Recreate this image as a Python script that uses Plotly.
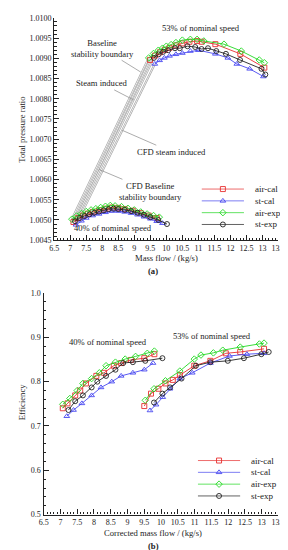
import plotly.graph_objects as go

# ---------------- data: (a) total pressure ratio ----------------
names = ["air-cal", "st-cal", "air-exp", "st-exp"]
colors = ["#e83030", "#4848f0", "#22d822", "#222222"]
symbols = ["square-open", "triangle-up-open", "diamond-open", "circle-open"]

# 40% nominal speed
pr40_air_cal_x = [7.1, 7.25, 7.4, 7.55, 7.7, 7.9, 8.1, 8.3, 8.5, 8.7, 8.95, 9.2, 9.45, 9.7]
pr40_air_cal_y = [1.00495, 1.00505, 1.00511, 1.00516, 1.00520, 1.00524, 1.00528, 1.00531, 1.00530, 1.00527, 1.00523, 1.00517, 1.00511, 1.00505]
pr40_st_cal_x = [7.18, 7.35, 7.5, 7.7, 7.9, 8.1, 8.3, 8.5, 8.7, 8.9, 9.1, 9.3, 9.5, 9.7, 9.88]
pr40_st_cal_y = [1.00488, 1.00498, 1.00505, 1.00511, 1.00515, 1.00519, 1.00522, 1.00522, 1.00520, 1.00517, 1.00513, 1.00508, 1.00503, 1.00497, 1.00492]
pr40_air_exp_x = [7.05, 7.2, 7.35, 7.5, 7.65, 7.8, 7.95, 8.1, 8.25, 8.4, 8.6, 8.8, 9.0, 9.2, 9.4, 9.6, 9.78]
pr40_air_exp_y = [1.00502, 1.00510, 1.00516, 1.00521, 1.00525, 1.00528, 1.00531, 1.00534, 1.00536, 1.00535, 1.00533, 1.00529, 1.00525, 1.00520, 1.00515, 1.00511, 1.00507]
pr40_st_exp_x = [7.15, 7.3, 7.45, 7.6, 7.75, 7.9, 8.05, 8.2, 8.35, 8.5, 8.7, 8.9, 9.1, 9.3, 9.5, 9.75, 10.02]
pr40_st_exp_y = [1.00497, 1.00505, 1.00510, 1.00514, 1.00518, 1.00521, 1.00524, 1.00527, 1.00528, 1.00527, 1.00525, 1.00522, 1.00518, 1.00513, 1.00507, 1.00500, 1.00490]

# 53% nominal speed
pr53_air_cal_x = [9.49, 9.65, 9.8, 9.95, 10.1, 10.3, 10.5, 10.72, 10.96, 11.1, 11.53, 12.31, 13.06]
pr53_air_cal_y = [1.00896, 1.00907, 1.00915, 1.00921, 1.00926, 1.00932, 1.00937, 1.00941, 1.00943, 1.00941, 1.00935, 1.00911, 1.00877]
pr53_st_cal_x = [9.64, 9.79, 9.94, 10.1, 10.3, 10.5, 10.75, 11.0, 11.53, 11.92, 12.2, 12.6, 13.03]
pr53_st_cal_y = [1.00886, 1.00895, 1.00901, 1.00906, 1.00910, 1.00913, 1.00918, 1.00920, 1.00911, 1.00901, 1.00886, 1.00874, 1.00855]
pr53_air_exp_x = [9.45, 9.6, 9.75, 9.88, 10.0, 10.15, 10.3, 10.5, 10.75, 10.96, 11.17, 11.8, 12.34, 12.9, 13.06]
pr53_air_exp_y = [1.00901, 1.00912, 1.00920, 1.00925, 1.00930, 1.00934, 1.00939, 1.00945, 1.00947, 1.00947, 1.00943, 1.00935, 1.00918, 1.00896, 1.00889]
pr53_st_exp_x = [9.61, 9.76, 9.9, 10.06, 10.27, 10.42, 10.66, 10.9, 11.1, 11.3, 11.56, 11.86, 12.3, 12.97, 13.09]
pr53_st_exp_y = [1.00901, 1.00910, 1.00916, 1.00920, 1.00925, 1.00925, 1.00930, 1.00928, 1.00923, 1.00925, 1.00918, 1.00911, 1.00896, 1.00874, 1.00860]

# ---------------- data: (b) efficiency ----------------
ef40_air_cal_x = [7.07, 7.21, 7.44, 7.59, 7.76, 8.07, 8.3, 8.59, 8.81, 9.1, 9.5, 9.8]
ef40_air_cal_y = [0.740, 0.751, 0.769, 0.780, 0.796, 0.813, 0.820, 0.836, 0.842, 0.849, 0.853, 0.862]
ef40_st_cal_x = [7.19, 7.39, 7.64, 7.93, 8.21, 8.53, 8.81, 9.16, 9.5, 9.76]
ef40_st_cal_y = [0.722, 0.736, 0.751, 0.769, 0.787, 0.800, 0.813, 0.820, 0.827, 0.842]
ef40_air_exp_x = [7.07, 7.28, 7.5, 7.67, 7.93, 8.16, 8.36, 8.64, 8.93, 9.24, 9.59, 9.8]
ef40_air_exp_y = [0.749, 0.762, 0.780, 0.796, 0.807, 0.820, 0.836, 0.844, 0.851, 0.857, 0.864, 0.869]
ef40_st_exp_x = [7.24, 7.44, 7.67, 7.93, 8.1, 8.36, 8.64, 8.87, 9.16, 9.53, 10.04]
ef40_st_exp_y = [0.736, 0.756, 0.769, 0.787, 0.800, 0.813, 0.827, 0.842, 0.844, 0.847, 0.853]

ef53_air_cal_x = [9.5, 9.7, 9.92, 10.13, 10.35, 10.56, 10.99, 11.47, 11.93, 12.36, 13.07]
ef53_air_cal_y = [0.745, 0.773, 0.784, 0.796, 0.804, 0.815, 0.836, 0.847, 0.864, 0.867, 0.874]
ef53_st_cal_x = [9.67, 9.85, 10.05, 10.27, 10.56, 10.93, 11.47, 12.04, 12.56, 13.07]
ef53_st_cal_y = [0.735, 0.748, 0.765, 0.784, 0.807, 0.820, 0.842, 0.858, 0.862, 0.864]
ef53_air_exp_x = [9.53, 9.79, 10.13, 10.56, 10.99, 11.19, 11.56, 11.84, 12.36, 12.93, 13.07]
ef53_air_exp_y = [0.758, 0.784, 0.802, 0.824, 0.851, 0.860, 0.865, 0.871, 0.878, 0.885, 0.887]
ef53_st_exp_x = [9.79, 10.04, 10.27, 10.61, 11.04, 11.47, 11.99, 12.47, 12.99, 13.21]
ef53_st_exp_y = [0.753, 0.773, 0.787, 0.807, 0.836, 0.844, 0.847, 0.853, 0.862, 0.867]

x_ticks = [6.5, 7, 7.5, 8, 8.5, 9, 9.5, 10, 10.5, 11, 11.5, 12, 12.5, 13, 13.5]
pr_ticks = [1.0045, 1.0050, 1.0055, 1.0060, 1.0065, 1.0070, 1.0075, 1.0080, 1.0085, 1.0090, 1.0095, 1.0100]
ef_ticks = [0.5, 0.6, 0.7, 0.8, 0.9, 1.0]

pr40 = [(pr40_air_cal_x, pr40_air_cal_y), (pr40_st_cal_x, pr40_st_cal_y),
        (pr40_air_exp_x, pr40_air_exp_y), (pr40_st_exp_x, pr40_st_exp_y)]
pr53 = [(pr53_air_cal_x, pr53_air_cal_y), (pr53_st_cal_x, pr53_st_cal_y),
        (pr53_air_exp_x, pr53_air_exp_y), (pr53_st_exp_x, pr53_st_exp_y)]
ef40 = [(ef40_air_cal_x, ef40_air_cal_y), (ef40_st_cal_x, ef40_st_cal_y),
        (ef40_air_exp_x, ef40_air_exp_y), (ef40_st_exp_x, ef40_st_exp_y)]
ef53 = [(ef53_air_cal_x, ef53_air_cal_y), (ef53_st_cal_x, ef53_st_cal_y),
        (ef53_air_exp_x, ef53_air_exp_y), (ef53_st_exp_x, ef53_st_exp_y)]

W, H = 288, 550
FONT = "Liberation Serif"
MSIZE = 5

def px(xp):
    return xp / W

def py(yp):
    return 1 - yp / H

fig = go.Figure()

# stability boundary lines (hollow gray lines) connecting the surge points
for i in range(4):
    lx = [pr40[i][0][0], pr53[i][0][0]]
    ly = [pr40[i][1][0], pr53[i][1][0]]
    fig.add_trace(go.Scatter(x=lx, y=ly, mode="lines", line=dict(color="#a0a0a0", width=2.0),
                             xaxis="x", yaxis="y", showlegend=False, hoverinfo="skip"))
    fig.add_trace(go.Scatter(x=lx, y=ly, mode="lines", line=dict(color="white", width=0.8),
                             xaxis="x", yaxis="y", showlegend=False, hoverinfo="skip"))

def add_series(data, xa, ya):
    for i, (xs, ys) in enumerate(data):
        fig.add_trace(go.Scatter(
            x=xs, y=ys, mode="lines+markers", name=names[i],
            line=dict(color=colors[i], width=0.9),
            marker=dict(symbol=symbols[i], size=MSIZE, color=colors[i], line=dict(width=0.9)),
            xaxis=xa, yaxis=ya, showlegend=False))

add_series(pr40, "x", "y")
add_series(pr53, "x", "y")
add_series(ef40, "x2", "y2")
add_series(ef53, "x2", "y2")

# custom legends on an overlay axis spanning the whole paper
leg_rows_a = [180, 192, 204, 216]
leg_rows_b = [456, 468, 480, 492]
for rows, (x0, x1) in [(leg_rows_a, (197, 241)), (leg_rows_b, (193, 237))]:
    for i, r in enumerate(rows):
        fig.add_trace(go.Scatter(
            x=[px(x0), px((x0 + x1) / 2), px(x1)], y=[py(r)] * 3, mode="lines",
            line=dict(color=colors[i], width=1), opacity=0.7,
            xaxis="x3", yaxis="y3", showlegend=False, hoverinfo="skip"))
        fig.add_trace(go.Scatter(
            x=[px((x0 + x1) / 2)], y=[py(r)], mode="markers",
            marker=dict(symbol=symbols[i], size=MSIZE, color=colors[i], line=dict(width=0.9)),
            xaxis="x3", yaxis="y3", showlegend=False, hoverinfo="skip"))

annotations = []
for rows, tx in [(leg_rows_a, 250), (leg_rows_b, 246)]:
    for i, r in enumerate(rows):
        annotations.append(dict(x=px(tx), y=py(r), xref="paper", yref="paper", text=names[i],
                                showarrow=False, xanchor="left", yanchor="middle",
                                font=dict(family=FONT, size=9, color="#222")))

lab = dict(family=FONT, size=8.6, color="#222")
C = dict(xanchor="center", yanchor="middle")
# chart (a) labels
annotations += [
    dict(x=11.08, y=1.00974, xref="x", yref="y", text="53% of nominal speed", showarrow=False, font=lab, **C),
    dict(x=8.33, y=1.00479, xref="x", yref="y", text="40% of nominal speed", showarrow=False, font=lab, **C),
    dict(x=9.2, y=1.00866, ax=8.0, ay=1.00925, xref="x", yref="y", axref="x", ayref="y",
         text="Baseline<br>stability boundary", showarrow=True, arrowhead=0, arrowwidth=0.7,
         arrowcolor="#888", font=lab),
    dict(x=8.98, y=1.00797, ax=7.98, ay=1.00838, xref="x", yref="y", axref="x", ayref="y",
         text="Steam induced", showarrow=True, arrowhead=0, arrowwidth=0.7,
         arrowcolor="#888", font=lab),
    dict(x=8.62, y=1.00722, ax=10.15, ay=1.00669, xref="x", yref="y", axref="x", ayref="y",
         text="CFD steam induced", showarrow=True, arrowhead=0, arrowwidth=0.7,
         arrowcolor="#888", font=lab),
    dict(x=7.9, y=1.00625, ax=9.52, ay=1.00571, xref="x", yref="y", axref="x", ayref="y",
         text="CFD Baseline<br>stability boundary", showarrow=True, arrowhead=0, arrowwidth=0.7,
         arrowcolor="#888", font=lab),
    # chart (b) labels
    dict(x=8.41, y=0.889, xref="x2", yref="y2", text="40% of nominal speed", showarrow=False, font=lab, **C),
    dict(x=11.53, y=0.904, xref="x2", yref="y2", text="53% of nominal speed", showarrow=False, font=lab, **C),
    # axis titles and panel labels
    dict(x=px(9), y=py(120), xref="paper", yref="paper", text="Total pressure ratio", textangle=-90,
         showarrow=False, font=lab, **C),
    dict(x=px(160), y=py(250), xref="paper", yref="paper", text="Mass flow / (kg/s)",
         showarrow=False, font=lab, **C),
    dict(x=px(146), y=py(263), xref="paper", yref="paper", text="<b>(a)</b>",
         showarrow=False, font=lab, **C),
    dict(x=px(9), y=py(397), xref="paper", yref="paper", text="Efficiency", textangle=-90,
         showarrow=False, font=lab, **C),
    dict(x=px(146), y=py(530), xref="paper", yref="paper", text="Corrected mass flow / (kg/s)",
         showarrow=False, font=lab, **C),
    dict(x=px(147), y=py(543), xref="paper", yref="paper", text="<b>(b)</b>",
         showarrow=False, font=lab, **C),
]

tickfont = dict(family=FONT, size=8, color="#222")
axis_common = dict(showgrid=False, zeroline=False, showline=True, linecolor="#222", linewidth=1.4,
                   ticks="inside", ticklen=5, tickwidth=1.2, tickcolor="#222", tickfont=tickfont,
                   mirror=False)

fig.update_layout(
    width=W, height=H, margin=dict(l=0, r=0, t=0, b=0),
    paper_bgcolor="white", plot_bgcolor="rgba(0,0,0,0)", showlegend=False,
    xaxis=dict(domain=[px(43), px(277)], range=[6.5, 13.5], tickmode="array", tickvals=x_ticks,
               anchor="y", minor=dict(ticks="inside", dtick=0.1, ticklen=2.5, tickcolor="#222"),
               **axis_common),
    yaxis=dict(domain=[py(232), py(6)], range=[1.0045, 1.0100], tickmode="array", tickvals=pr_ticks,
               tickformat=".4f", anchor="x",
               minor=dict(ticks="inside", dtick=0.0001, ticklen=2.5, tickcolor="#222"),
               **axis_common),
    xaxis2=dict(domain=[px(32), px(277)], range=[6.5, 13.5], tickmode="array", tickvals=x_ticks,
                anchor="y2", minor=dict(ticks="inside", dtick=0.1, ticklen=2.5, tickcolor="#222"),
                **axis_common),
    yaxis2=dict(domain=[py(511), py(285.7)], range=[0.5, 1.0], tickmode="array", tickvals=ef_ticks,
                tickformat=".1f", anchor="x2",
                minor=dict(ticks="inside", dtick=0.02, ticklen=2.5, tickcolor="#222"),
                **axis_common),
    xaxis3=dict(domain=[0, 1], range=[0, 1], visible=False, anchor="y3", fixedrange=True),
    yaxis3=dict(domain=[0, 1], range=[0, 1], visible=False, anchor="x3", fixedrange=True),
    annotations=annotations,
)

fig.write_html("out.html")
